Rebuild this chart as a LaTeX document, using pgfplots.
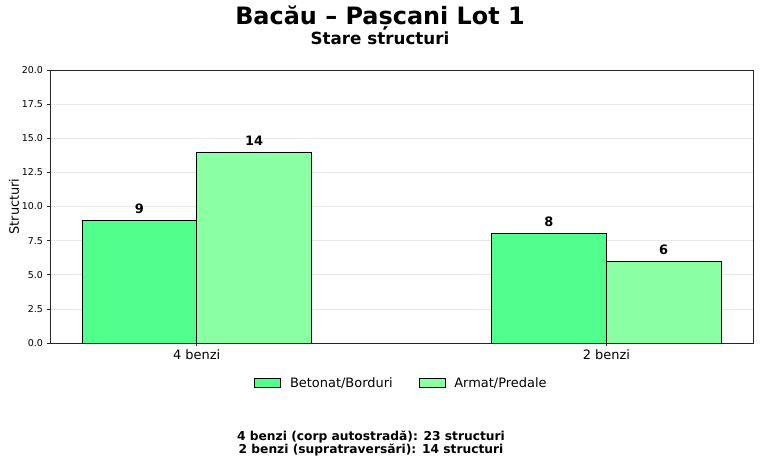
\documentclass[border=0pt]{standalone}
\usepackage{fontspec}
\setmainfont{DejaVu Sans}
\usepackage{pgfplots}
\pgfplotsset{compat=1.18}

\definecolor{betonat}{RGB}{80,255,140}
\definecolor{armat}{RGB}{138,255,164}
\definecolor{gridc}{RGB}{232,232,232}
\definecolor{framec}{RGB}{40,40,40}

\begin{document}
\begin{tikzpicture}[x=1bp,y=1bp]
\path[use as bounding box] (-50,-120) rectangle (710,343);
\begin{axis}[
  at={(0,0)}, anchor=south west,
  width=703bp, height=273bp, scale only axis,
  ybar=0pt, bar width=0.28,
  xmin=-0.358, xmax=1.358,
  ymin=0, ymax=20,
  xtick={0,1}, xticklabels={4 benzi,2 benzi},
  ytick={0,2.5,...,20},
  yticklabel style={/pgf/number format/fixed, /pgf/number format/fixed zerofill, /pgf/number format/precision=1},
  /pgf/number format/assume math mode=true,
  ytick pos=left, xtick pos=bottom,
  tick align=outside, major tick length=3.5bp,
  tick style={framec, line width=0.6pt},
  axis line style={framec, line width=0.8pt},
  ymajorgrids, grid style={gridc, line width=0.6pt},
  x tick label style={font=\fontsize{13}{15}\selectfont},
  y tick label style={font=\fontsize{9.5}{11}\selectfont},
  ylabel={Structuri},
  every axis y label/.style={at={(axis description cs:-0.0512,0.5)},rotate=90,anchor=center,font=\fontsize{13}{15}\selectfont},
  nodes near coords,
  every node near coord/.append style={font=\bfseries\fontsize{13}{15}\selectfont, black, yshift=3bp},
  legend style={at={(0.5,-0.1465)}, anchor=center, draw=none, fill=none,
    legend columns=2, font=\fontsize{13}{15}\selectfont,
    /tikz/every odd column/.append style={column sep=7bp},
    /tikz/every even column/.append style={column sep=24bp}},
  legend image code/.code={\draw[#1, draw=black, line width=0.6pt] (0bp,-4.5bp) rectangle (26bp,4.5bp);},
]
\addplot[fill=betonat, draw=black, line width=0.6pt] coordinates {(0,9) (1,8)};
\addplot[fill=armat, draw=black, line width=0.6pt] coordinates {(0,14) (1,6)};
\legend{Betonat/Borduri, Armat/Predale}
\end{axis}
\node[font=\bfseries\fontsize{24}{28}\selectfont] at (330,325) {Bacău – Pașcani Lot 1};
\node[font=\bfseries\fontsize{16.8}{19}\selectfont] at (330,304.5) {Stare structuri};
\node[font=\bfseries\fontsize{12.3}{13}\selectfont, align=center] at (321,-100.5)
  {4 benzi (corp autostradă): 23 structuri\\2 benzi (supratraversări): 14 structuri};
\end{tikzpicture}
\end{document}
